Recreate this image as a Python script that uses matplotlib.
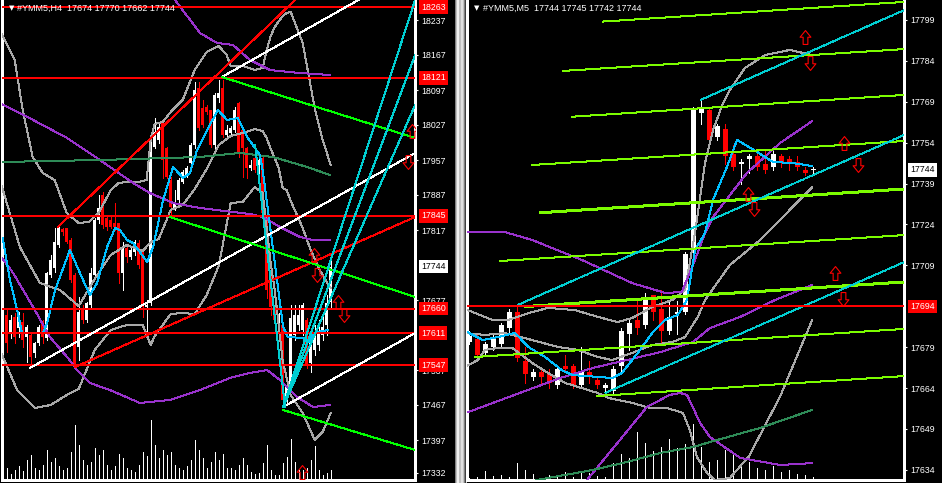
import numpy as np
import matplotlib
matplotlib.use("Agg")
import matplotlib.pyplot as plt
from matplotlib.path import Path
from matplotlib.patches import Rectangle
from matplotlib.transforms import blended_transform_factory

plt.rcParams['font.family'] = ['Liberation Sans', 'DejaVu Sans']
plt.rcParams['lines.antialiased'] = False   # terminal draws hard pixel lines
plt.rcParams['patch.antialiased'] = False

W, H = 942, 483

# ---------------------------------------------------------------
# #YMM5 H4 window (left)
# ---------------------------------------------------------------
h4_open = [17707, 17647, 17611, 17643, 17621, 17633, 17603, 17607, 17571, 17591,
           17633, 17601, 17727, 17741, 17787, 17819, 17821, 17797, 17727, 17583,
           17661, 17637, 17667, 17727, 17837, 17887, 17841, 17837, 17831, 17831,
           17731, 17781, 17763, 17773, 17791, 17773, 17663, 17671, 17983, 17997,
           18031, 17981, 17917, 17861, 17877, 17913, 17927, 17951, 17987, 18101,
           18061, 18063, 18057, 17987, 18081, 18101, 18007, 18011, 18017, 18071,
           18017, 17981, 17941, 17961, 17933, 17961, 17847, 17731, 17667, 17633,
           17627, 17481, 17507, 17607, 17627, 17617, 17637, 17551, 17577, 17587,
           17607, 17627, 17674]
h4_close = [17587, 17591, 17637, 17603, 17647, 17597, 17623, 17563, 17591, 17623,
            17603, 17731, 17757, 17793, 17821, 17813, 17793, 17717, 17547, 17653,
            17637, 17671, 17731, 17837, 17861, 17827, 17823, 17823, 17823, 17731,
            17781, 17763, 17777, 17793, 17747, 17663, 17667, 17993, 18013, 18023,
            17957, 17923, 17863, 17873, 17917, 17933, 17941, 17987, 18097, 18021,
            18027, 18053, 17987, 18087, 18091, 18007, 18017, 18021, 18057, 17971,
            17981, 17941, 17947, 17937, 17957, 17851, 17697, 17663, 17637, 17647,
            17477, 17507, 17641, 17647, 17647, 17667, 17547, 17597, 17603, 17613,
            17623, 17671, 17744]
h4_high = [17731, 17657, 17647, 17651, 17653, 17651, 17627, 17611, 17593, 17627,
           17637, 17733, 17767, 17821, 17823, 17821, 17821, 17801, 17731, 17683,
           17667, 17673, 17741, 17841, 17887, 17893, 17847, 17843, 17871, 17831,
           17793, 17787, 17781, 17797, 17797, 17777, 17677, 17997, 18041, 18031,
           18033, 17983, 17923, 17897, 17921, 17937, 17945, 17991, 18113, 18113,
           18077, 18067, 18057, 18091, 18117, 18117, 18027, 18025, 18063, 18073,
           18021, 17983, 17957, 17967, 17963, 17967, 17853, 17737, 17677, 17651,
           17631, 17517, 17667, 17667, 17667, 17671, 17641, 17607, 17627, 17637,
           17647, 17687, 17770]
h4_low = [17573, 17573, 17601, 17591, 17603, 17583, 17553, 17543, 17563, 17587,
          17591, 17597, 17723, 17733, 17783, 17807, 17791, 17713, 17541, 17557,
          17631, 17633, 17663, 17723, 17831, 17821, 17817, 17821, 17817, 17711,
          17697, 17753, 17759, 17767, 17741, 17643, 17603, 17667, 17981, 17991,
          17921, 17921, 17843, 17857, 17873, 17911, 17923, 17943, 17981, 18017,
          18023, 18049, 17983, 17977, 18073, 18003, 18003, 18007, 18013, 17963,
          17923, 17921, 17937, 17933, 17927, 17847, 17681, 17647, 17623, 17627,
          17463, 17473, 17497, 17597, 17617, 17607, 17541, 17533, 17567, 17577,
          17597, 17607, 17662]
h4_volume = [8, 12, 6, 10, 14, 9, 20, 25, 12, 10, 15, 30, 18, 22, 14, 10, 12, 28, 55, 35,
             20, 15, 18, 32, 25, 30, 15, 10, 14, 26, 22, 12, 10, 8, 15, 28, 24, 60, 35, 22,
             30, 25, 28, 15, 12, 10, 14, 20, 40, 30, 22, 12, 18, 28, 20, 26, 12, 12, 10, 15,
             22, 15, 8, 6, 7, 17, 35, 10, 5, 5, 17, 23, 41, 18, 10, 10, 12, 20, 34, 10,
             5, 7, 10]

h4_levels = [18263, 18121, 17845, 17660, 17611, 17547]
h4_ticks = [18237, 18167, 18097, 18027, 17957, 17887, 17817, 17677, 17537, 17467, 17397, 17332]

# indicators as (bar, price)
h4_bb_up_x = [-0.7, 3, 5, 7.5, 10, 13, 16, 19, 21.5, 24, 27, 29, 31, 34, 36, 37, 38, 40, 42, 45,
              48, 51, 54, 56, 57, 60, 63, 65, 66, 67, 68, 70, 71, 72, 75, 78, 80, 82]
h4_bb_up = [18217, 18157, 18057, 17963, 17931, 17917, 17851, 17831, 17833, 17851,
            17897, 17911, 17913, 17913, 17917, 17999, 18029, 18033, 18053, 18077,
            18137, 18173, 18185, 18167, 18145, 18145, 18137, 18141, 18177, 18205,
            18223, 18245, 18251, 18253, 18191, 18061, 17997, 17947]
h4_bb_mid_x = [-0.7, 4.3, 9.3, 14.3, 19, 23, 27, 31, 35, 37, 39, 42, 45, 48, 51, 54, 57, 60, 63,
               65, 66, 67, 68, 69, 70, 71, 72, 73, 75, 77, 79, 81, 82]
h4_bb_mid = [17917, 17783, 17711, 17697, 17665, 17719, 17767, 17787, 17775, 17793,
             17799, 17857, 17867, 17899, 17939, 17987, 18005, 18011, 18019, 18015,
             18001, 17979, 17961, 17941, 17901, 17897, 17875, 17857, 17821, 17777,
             17741, 17713, 17701]
h4_bb_low_x = [-0.7, 3.6, 8, 12, 16, 19, 23, 27, 31, 35, 37, 38, 42, 45, 48, 51, 54, 57, 60, 63,
               65, 66, 67, 68, 70, 72, 75, 78, 80, 82]
h4_bb_low = [17577, 17497, 17461, 17467, 17487, 17499, 17577, 17617, 17627, 17627,
             17587, 17605, 17649, 17651, 17649, 17687, 17745, 17871, 17873, 17903,
             17891, 17821, 17751, 17697, 17555, 17487, 17451, 17397, 17413, 17451]

h4_env_up_x = [37, 40.6, 43.1, 49.3, 53.6, 57.6, 61.8, 66.8, 74.3, 81.8]
h4_env_up = [18357, 18317, 18277, 18211, 18191, 18187, 18157, 18137, 18131, 18127]
h4_env_mid_x = [-0.7, 7.6, 16.1, 24.3, 32.6, 36.8, 42.6, 49.3, 57.6, 61.8, 65.1, 69.3, 74.3, 77.6, 81.8]
h4_env_mid = [18071, 18037, 18001, 17957, 17911, 17891, 17871, 17861, 17853, 17849,
              17843, 17823, 17803, 17797, 17797]
h4_env_low_x = [-0.7, 2.6, 7.6, 11.8, 16.1, 18.6, 21.8, 26.8, 34.3, 41.8, 49.3, 56.8,
                61.8, 66.1, 69.3, 73.6, 77.6, 81.8]
h4_env_low = [17767, 17731, 17663, 17603, 17563, 17537, 17511, 17497, 17471, 17477,
              17497, 17521, 17531, 17537, 17517, 17483, 17463, 17467]

h4_ma_slow_x = [-0.7, 24.3, 49.3, 59.3, 67.6, 76.1, 81.8]
h4_ma_slow = [17953, 17957, 17963, 17971, 17963, 17943, 17927]
h4_ma_fast_x = [0, 1.8, 3.8, 4.8, 10.1, 11.1, 13.1, 16.8, 19.3, 21.8, 23.6, 26.1, 28.1, 29.3,
                31.1, 32.6, 36.1, 37.6, 40.1, 42.6, 45.1, 46.8, 48.6, 51.1, 53.8, 56.1, 58.8,
                61.3, 64.3, 65.1, 67.6, 70.1, 71.3, 75.1, 76.8, 77.6, 81.3]
h4_ma_fast = [17801, 17717, 17651, 17611, 17611, 17631, 17697, 17777, 17731, 17687,
              17711, 17783, 17821, 17817, 17797, 17791, 17753, 17783, 17877, 17943,
              17921, 17931, 17977, 18017, 18057, 18037, 18041, 18001, 17967, 17931,
              17777, 17623, 17603, 17601, 17593, 17611, 17617]

# drawn objects: (bar1, price1, bar2, price2)
h4_red_trend = [(13.8, 17823, 73.1, 18277), (18.1, 17543, 103.1, 17843)]
h4_white_trend = [(6.8, 17541, 103.1, 17971), (54.8, 18123, 103.1, 18341), (70.1, 17463, 103.1, 17611)]
h4_green_trend = [(54.8, 18123, 103.1, 18001), (41.8, 17843, 103.1, 17683), (70.1, 17457, 103.1, 17377)]
h4_fan = [(70.1, 17463, 103.1, 18277), (70.1, 17463, 103.1, 18167), (70.1, 17463, 103.1, 18067),
          (63.1, 17987, 70.6, 17463)]
h4_arrow_up = [(77.8, 17767), (83.8, 17673), (74.8, 17333), (102.3, 18015)]
h4_arrow_dn = [(78.6, 17727), (85.3, 17647), (101.3, 17953)]

# ---------------------------------------------------------------
# #YMM5 M5 window (right)
# ---------------------------------------------------------------
m5_open = [17681, 17682, 17677, 17679, 17680, 17686, 17692, 17674, 17668, 17670,
           17669, 17665, 17672, 17672, 17665, 17670, 17667, 17664, 17663, 17672,
           17684, 17689, 17687, 17698, 17693, 17685, 17691, 17692, 17714, 17765,
           17766, 17756, 17759, 17750, 17746, 17748, 17749, 17746, 17745, 17749,
           17748, 17747, 17744, 17744]
m5_close = [17683, 17676, 17680, 17682, 17687, 17692, 17675, 17669, 17670, 17668,
            17666, 17671, 17671, 17665, 17670, 17668, 17665, 17665, 17671, 17685,
            17688, 17686, 17697, 17692, 17685, 17690, 17692, 17713, 17766, 17767,
            17755, 17760, 17749, 17745, 17747, 17749, 17745, 17744, 17750, 17747,
            17747, 17745, 17743, 17744]
m5_high = [17685, 17684, 17681, 17684, 17688, 17693, 17694, 17679, 17671, 17671,
           17671, 17672, 17676, 17673, 17679, 17674, 17668, 17666, 17672, 17686,
           17689, 17696, 17699, 17698, 17700, 17696, 17696, 17714, 17767, 17770,
           17767, 17761, 17761, 17753, 17748, 17750, 17751, 17751, 17751, 17750,
           17749, 17749, 17745, 17745]
m5_low = [17680, 17675, 17676, 17678, 17679, 17684, 17674, 17666, 17667, 17666,
          17664, 17664, 17670, 17664, 17664, 17666, 17664, 17663, 17662, 17670,
          17678, 17684, 17686, 17689, 17681, 17684, 17684, 17691, 17713, 17761,
          17754, 17755, 17746, 17744, 17739, 17743, 17744, 17743, 17744, 17745,
          17744, 17744, 17742, 17742]
m5_volume = [2, 3, 9, 4, 5, 3, 17, 10, 6, 2, 5, 3, 8, 3, 8, 7, 4, 3, 17, 26,
             22, 48, 37, 29, 33, 41, 32, 36, 56, 33, 18, 20, 30, 25, 15, 18, 12, 10, 14, 8,
             10, 6, 5, 3]

m5_levels = [17694]
m5_ticks = [17799, 17784, 17769, 17754, 17739, 17724, 17709, 17679, 17664, 17649, 17634]

m5_bb_up_x = [-0.5, 2.9, 4.9, 7.9, 9.9, 13.25, 16.1, 18.6, 20.4, 22.9, 25.4, 27, 28.25, 29.5,
              30.5, 31.75, 32.6, 34.5, 37, 40.1, 42.9]
m5_bb_up = [17693.0, 17689.0, 17689.0, 17691.9, 17693.4, 17692.6, 17690.1, 17688.2, 17689.7,
            17693.7, 17696.3, 17700.0, 17720.9, 17746.5, 17758.6, 17768.5, 17773.3, 17781.4,
            17786.1, 17788.0, 17786.1]
m5_bb_mid_x = [-0.5, 2, 4.5, 7.9, 11.1, 13.6, 16.1, 17.9, 20.4, 22.9, 25.4, 27, 28.6, 29.5,
               32.6, 36.4, 42.9]
m5_bb_mid = [17684.2, 17683.5, 17684.2, 17681.6, 17679.1, 17678.0, 17675.4, 17674.3, 17676.9,
             17679.8, 17680.9, 17682.7, 17690.1, 17696.3, 17709.1, 17718.3, 17737.7]
m5_bb_low_x = [-0.5, 1.1, 2, 3.6, 5.4, 7.9, 9.9, 12, 14.1, 16.1, 17.4, 20.5, 22.6, 24.75,
               26.75, 27.6, 28.5, 29.75, 30.75, 32.6, 35, 38.9, 42.9]
m5_bb_low = [17671.7, 17674.3, 17678.0, 17678.7, 17678.7, 17673.2, 17669.5, 17665.9, 17664.0,
             17662.2, 17660.4, 17658.5, 17656.7, 17656.7, 17654.9, 17648.6, 17638.7, 17632.9,
             17630.3, 17631.0, 17639.0, 17661.0, 17689.0]

m5_env_up_x = [-0.5, 4.5, 7.9, 14.1, 20.4, 24.5, 26.6, 28.25, 29.5, 30.5, 34.75, 38.9, 42.9]
m5_env_up = [17721.2, 17721.2, 17718.3, 17711.0, 17702.5, 17698.9, 17699.2, 17711.0, 17720.9,
             17726.7, 17742.9, 17753.9, 17761.9]
m5_env_mid_x = [-0.1, 11.4, 15.5, 19.75, 23.9, 28, 30.1, 33.9, 38.25, 42.9]
m5_env_mid = [17655.2, 17667.7, 17671.4, 17674.3, 17677.2, 17680.9, 17686.0, 17690.1, 17696.3, 17701.8]
m5_env_low_x = [11.4, 14.75, 22.25, 25.1, 26.4, 27.25, 28.9, 30.1, 33.9, 38.9, 42.9]
m5_env_low = [17623.0, 17630.3, 17657.1, 17661.5, 17662.2, 17661.5, 17651.2, 17646.1, 17638.4,
              17635.8, 17636.5]

m5_ma_slow_x = [6.4, 8.5, 15.5, 19.75, 23.9, 28, 30.1, 36.4, 42.9]
m5_ma_slow = [17628.5, 17630.3, 17634.0, 17636.9, 17640.2, 17642.4, 17644.2, 17649.4, 17656.0]
m5_ma_fast_x = [-0.25, 1.75, 3.6, 5.75, 7.4, 9.5, 11.6, 12.9, 16.1, 17.9, 19.1, 21.1, 22.9, 24.5,
                26.1, 27.25, 28.25, 29.5, 30.5, 32.25, 33.5, 36, 38, 40.5, 42.9]
m5_ma_fast = [17684.6, 17681.6, 17682.7, 17684.2, 17679.1, 17675.4, 17670.6, 17668.8, 17668.1,
              17667.7, 17669.5, 17676.9, 17684.2, 17689.0, 17690.8, 17696.3, 17714.6, 17720.9,
              17733.0, 17745.1, 17755.0, 17750.6, 17746.9, 17746.5, 17745.4]

# channel lines: start bar/price, all end at bar 54.4
m5_channel_x0 = [16.75, 11.75, 12.9, 7.9, 8.9, 3.9, 7, 0.75, 16]
m5_channel_p0 = [17798.4, 17780.3, 17763.5, 17745.8, 17728.3, 17710.6, 17693.9, 17675.4, 17661.1]
m5_channel_p1 = [17805.6, 17788.3, 17771.5, 17754.6, 17737.0, 17720.1, 17702.9, 17685.7, 17668.4]
m5_channel_thick = [4, 6]
m5_cyan_trend = [(28.9, 17769.6, 54.4, 17802.6), (6.1, 17694.5, 54.4, 17756.8), (17, 17662.2, 54.4, 17710.2)]
m5_arrow_up = [(42, 17792.7), (46.9, 17753.9), (34.9, 17735.2), (45.75, 17706.2)]
m5_arrow_dn = [(42.6, 17783.2), (48.6, 17745.8), (35.6, 17729.7), (46.75, 17696.7)]


up_verts = [(-0.17, -0.5), (0.17, -0.5), (0.17, 0.02), (0.39, 0.02), (0, 0.5),
            (-0.39, 0.02), (-0.17, 0.02), (-0.17, -0.5)]
ARROW_UP = Path(up_verts, closed=True)
ARROW_DN = Path([(x, -y) for x, y in up_verts], closed=True)
LW = 0.72        # one screen pixel
LEVEL_LW = 1.44  # horizontal levels are two pixels


def draw_candles(ax, o, h, l, c, width, min_body):
    o, h, l, c = map(np.asarray, (o, h, l, c))
    x = np.arange(len(o))
    colors = np.where(c >= o, 'white', 'red')
    ax.vlines(x, l, h, colors=colors, linewidth=LW, zorder=2)
    ax.bar(x, np.maximum(np.abs(c - o), min_body), width, np.minimum(o, c),
           color=colors, linewidth=0, zorder=2)


def draw_volume(ax, vol):
    vax = ax.twinx()
    vax.set_ylim(0, 480)
    vax.set_yticks([])
    for s in vax.spines.values():
        s.set_visible(False)
    vax.vlines(np.arange(len(vol)), 0, vol, colors='white', linewidth=LW)
    ax.set_zorder(vax.get_zorder() + 1)
    ax.patch.set_visible(False)


def setup(ax, xlim, ylim, ticks):
    ax.set_xlim(*xlim)
    ax.set_ylim(*ylim)
    ax.spines['top'].set_visible(False)
    for s in ['left', 'right', 'bottom']:
        ax.spines[s].set_color('white')
        ax.spines[s].set_linewidth(0.8)
    ax.set_xticks([])
    ax.yaxis.tick_right()
    ax.set_yticks(ticks)
    ax.set_yticklabels([str(t) for t in ticks])
    ax.tick_params(axis='y', colors='white', labelsize=6.3, length=2, width=0.8, pad=2.2)


def price_tag(ax, price, fc, tc):
    tr = blended_transform_factory(ax.transAxes, ax.transData)
    ax.annotate(str(price), xy=(1, price), xycoords=tr, xytext=(6, 0), textcoords='offset pixels',
                ha='left', va='center', fontsize=6.3, color=tc, annotation_clip=False, zorder=20,
                bbox=dict(boxstyle='square,pad=0.25', fc=fc, ec='none'))


def lines(ax, segs, color, lw=LW, ls='-'):
    for x0, p0, x1, p1 in segs:
        ax.plot([x0, x1], [p0, p1], color=color, lw=lw, ls=ls, zorder=4)


def arrows(ax, pts, path):
    ax.plot([p[0] for p in pts], [p[1] for p in pts], ls='none', marker=path, markersize=10,
            markerfacecolor='none', markeredgecolor='red', markeredgewidth=0.8, zorder=6)


def title(ax, text):
    ax.text(0.017, 0.983, '\u25bc', transform=ax.transAxes, color='white', fontsize=5,
            va='center', ha='left', family='DejaVu Sans', zorder=20)
    ax.text(0.037, 0.983, text, transform=ax.transAxes, color='white', fontsize=6.5,
            va='center', ha='left', zorder=20)


def indicators(ax, series, color):
    for xs, ys in series:
        ax.plot(xs, ys, color=color, lw=LW, zorder=3)


fig = plt.figure(figsize=(W / 100, H / 100), dpi=100, facecolor='black')

# ---- left H4 ----
ax1 = fig.add_axes([2 / W, 3 / H, 413 / W, 480 / H])
draw_volume(ax1, h4_volume)          # twinx first, it moves the ticks
setup(ax1, (-0.175, 103.075), (17317, 18277), h4_ticks)
draw_candles(ax1, h4_open, h4_high, h4_low, h4_close, 0.75, 2)

indicators(ax1, [(h4_bb_up_x, h4_bb_up), (h4_bb_mid_x, h4_bb_mid), (h4_bb_low_x, h4_bb_low)], '#a8a8a8')
indicators(ax1, [(h4_env_up_x, h4_env_up), (h4_env_mid_x, h4_env_mid), (h4_env_low_x, h4_env_low)], '#9932cc')
indicators(ax1, [(h4_ma_slow_x, h4_ma_slow)], '#2e8b57')
indicators(ax1, [(h4_ma_fast_x, h4_ma_fast)], '#00bfff')

for lv in h4_levels:
    ax1.axhline(lv, color='red', lw=LEVEL_LW, zorder=4)
    price_tag(ax1, lv, 'red', 'white')
lines(ax1, h4_red_trend, 'red')
lines(ax1, h4_white_trend, 'white')
lines(ax1, h4_green_trend, '#00ff00')
lines(ax1, h4_fan, '#00ced1')
arrows(ax1, h4_arrow_up, ARROW_UP)
arrows(ax1, h4_arrow_dn, ARROW_DN)
price_tag(ax1, h4_close[-1], 'white', 'black')
title(ax1, f"#YMM5,H4  {h4_open[-1]} {h4_high[-1]} {h4_low[-1]} {h4_close[-1]}")

# ---- right M5 ----
ax2 = fig.add_axes([467 / W, 3 / H, 437 / W, 480 / H])
draw_volume(ax2, m5_volume)
setup(ax2, (-0.25, 54.375), (17630.3, 17806.3), m5_ticks)
draw_candles(ax2, m5_open, m5_high, m5_low, m5_close, 0.625, 0.37)

indicators(ax2, [(m5_bb_up_x, m5_bb_up), (m5_bb_mid_x, m5_bb_mid), (m5_bb_low_x, m5_bb_low)], '#a8a8a8')
indicators(ax2, [(m5_env_up_x, m5_env_up), (m5_env_mid_x, m5_env_mid), (m5_env_low_x, m5_env_low)], '#9932cc')
indicators(ax2, [(m5_ma_slow_x, m5_ma_slow)], '#2e8b57')
indicators(ax2, [(m5_ma_fast_x, m5_ma_fast)], '#00bfff')

for i in range(len(m5_channel_x0)):
    lw = LEVEL_LW if i in m5_channel_thick else LW
    ax2.plot([m5_channel_x0[i], 54.4], [m5_channel_p0[i], m5_channel_p1[i]],
             color='#7cfc00', lw=lw, zorder=4)
lines(ax2, m5_cyan_trend, '#00ced1', ls=(0, (1, 1)))
for lv in m5_levels:
    ax2.axhline(lv, color='red', lw=LEVEL_LW, zorder=4)
    price_tag(ax2, lv, 'red', 'white')
arrows(ax2, m5_arrow_up, ARROW_UP)
arrows(ax2, m5_arrow_dn, ARROW_DN)
price_tag(ax2, m5_close[-1], 'white', 'black')
title(ax2, f"#YMM5,M5  {m5_open[-1]} {m5_high[-1]} {m5_low[-1]} {m5_close[-1]}")

# splitter bar between the two windows
for x0, w, col in [(455, 12, '#c0c0c0'), (455, 1, '#808080'), (457, 2, '#f0f0f0'),
                   (461, 2, '#e0e0e0'), (464, 1, '#808080'), (465, 1, '#404040')]:
    fig.patches.append(Rectangle((x0 / W, 0), w / W, 1, transform=fig.transFigure,
                                 facecolor=col, edgecolor='none', zorder=0))

fig.savefig('out.png', dpi=100, facecolor='black')
